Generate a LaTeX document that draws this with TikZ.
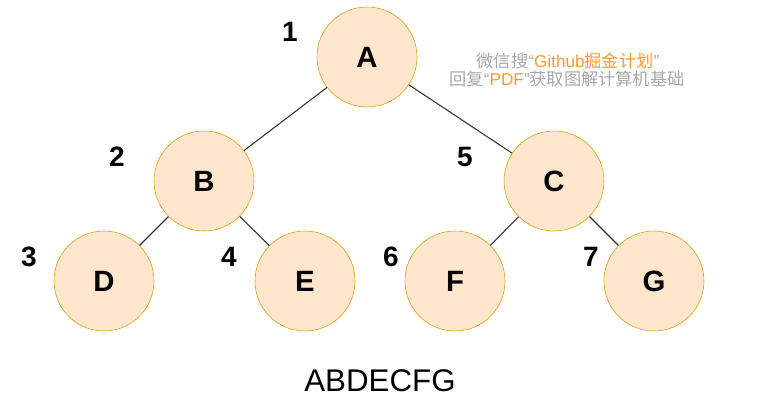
\documentclass[tikz,border=0pt]{standalone}
\usepackage{fontspec}
\setmainfont{Liberation Sans}
\newfontfamily\cjk{Noto Sans CJK SC}
\usepackage{tikz}
\definecolor{nodefill}{HTML}{FFE6CC}
\definecolor{nodeline}{HTML}{D79B00}
\definecolor{wmgray}{HTML}{A8A8A8}
\definecolor{wmorange}{HTML}{FF9A2E}
\newlength{\px}
\setlength{\px}{0.75pt}
\newcommand{\zh}[1]{{\cjk #1}}
\tikzset{
  vertex/.style={circle,draw=nodeline,fill=nodefill,minimum size=100\px,inner sep=0pt,font=\fontsize{22}{26}\selectfont\bfseries},
  num/.style={font=\fontsize{21}{25}\selectfont\bfseries},
  edge/.style={draw=black!80,line width=0.8pt},
  mark text/.style={font=\fontsize{12.9}{15}\selectfont,text=wmgray}
}
\begin{document}
\begin{tikzpicture}[x=0.75pt,y=-0.75pt]
\useasboundingbox (0,0) rectangle (783,407);

% tree
\node[vertex] (A) at (367,57) {A};
\node[vertex] (B) at (204,181) {B};
\node[vertex] (C) at (554,181) {C};
\node[vertex] (D) at (104,281) {D};
\node[vertex] (E) at (305,281) {E};
\node[vertex] (F) at (455,281) {F};
\node[vertex] (G) at (654,281) {G};

\draw[edge] (A) -- (B);
\draw[edge] (A) -- (C);
\draw[edge] (B) -- (D);
\draw[edge] (B) -- (E);
\draw[edge] (C) -- (F);
\draw[edge] (C) -- (G);

% order numbers
\node[num] (n1) at (290,32) {1};
\node[num] (n2) at (117,157) {2};
\node[num] (n3) at (29,257) {3};
\node[num] (n4) at (229,257) {4};
\node[num] (n5) at (465,157) {5};
\node[num] (n6) at (391,257) {6};
\node[num] (n7) at (591,257) {7};

% result
\node[font=\fontsize{23.5}{27}\selectfont] (res) at (380,381) {ABDECFG};

% watermark
\node[mark text] (wm1) at (568,61)
  {\zh{微信搜}“\textcolor{wmorange}{Github\zh{掘金计划}}”};
\node[mark text] (wm2) at (567,79)
  {\zh{回复}“\textcolor{wmorange}{PDF}”\zh{获取图解计算机基础}};
\end{tikzpicture}
\end{document}
